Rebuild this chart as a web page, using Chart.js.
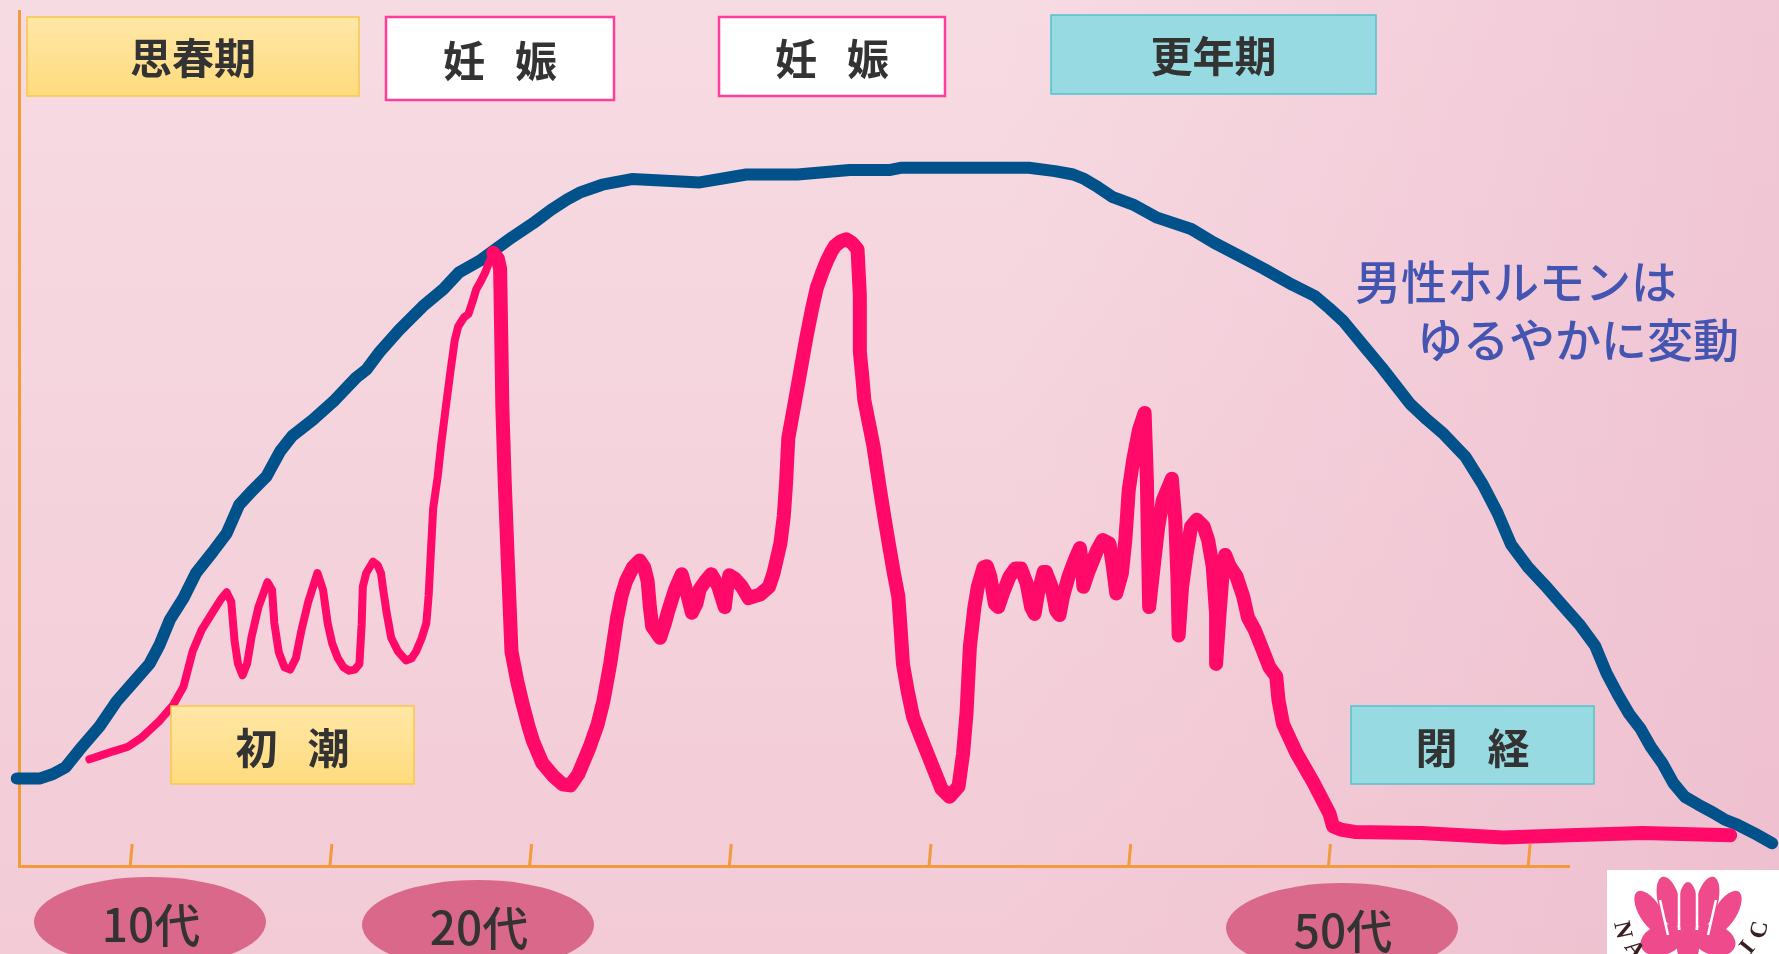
<!DOCTYPE html>
<html lang="ja">
<head>
<meta charset="utf-8">
<title>女性ホルモンと男性ホルモンの変化</title>
<script src="https://cdn.jsdelivr.net/npm/chart.js@4.4.0/dist/chart.umd.min.js"></script>
<style>
  html, body { margin: 0; padding: 0; overflow: hidden; }
  #wrap { width: 1779px; height: 954px; position: relative; }
</style>
</head>
<body>
<div id="wrap"><canvas id="chart"></canvas></div>
<script>
// x: position along the life axis (tick = one step), y: hormone level
const tickX = [1.15, 2.91, 4.67, 6.43, 8.19, 9.95, 11.71, 13.47];
const X_MIN = 0.17, X_MAX = 13.83;
const Y_MIN = 0, Y_MAX = 75.3;
const FIRST_PEAK_X = 4.35; // pink line gets thicker after the first pregnancy peak

// 女性ホルモン (pink)
const pinkX = [0.79, 0.88, 1.00, 1.13, 1.25, 1.40, 1.53, 1.62, 1.70, 1.78, 1.88, 1.95, 2.00, 2.04, 2.07, 2.10, 2.14, 2.18, 2.22, 2.28,
  2.36, 2.40, 2.42, 2.46, 2.51, 2.56, 2.61, 2.66, 2.72, 2.80, 2.85, 2.89, 2.93, 2.98, 3.03, 3.08, 3.13, 3.17, 3.19, 3.20,
  3.23, 3.29, 3.33, 3.36, 3.38, 3.41, 3.45, 3.51, 3.58, 3.63, 3.67, 3.72, 3.76, 3.78, 3.80, 3.82, 3.86, 3.89, 3.93, 3.97,
  4.01, 4.04, 4.09, 4.13, 4.17, 4.20, 4.24, 4.28, 4.31, 4.35, 4.39, 4.41, 4.42, 4.43, 4.45, 4.48, 4.51, 4.56, 4.61, 4.66,
  4.70, 4.78, 4.88, 4.96, 5.03, 5.10, 5.20, 5.27, 5.32, 5.38, 5.44, 5.48, 5.52, 5.58, 5.64, 5.68, 5.71, 5.73, 5.75, 5.82,
  5.86, 5.89, 5.95, 6.01, 6.05, 6.10, 6.14, 6.17, 6.22, 6.27, 6.33, 6.39, 6.41, 6.43, 6.48, 6.54, 6.60, 6.70, 6.78, 6.82,
  6.88, 6.91, 6.93, 6.95, 7.01, 7.06, 7.11, 7.16, 7.20, 7.25, 7.29, 7.33, 7.36, 7.41, 7.46, 7.51, 7.56, 7.58, 7.58, 7.60,
  7.62, 7.66, 7.70, 7.73, 7.76, 7.80, 7.84, 7.88, 7.92, 7.94, 7.96, 8.00, 8.05, 8.12, 8.18, 8.22, 8.26, 8.30, 8.37, 8.45,
  8.49, 8.52, 8.55, 8.59, 8.62, 8.67, 8.70, 8.73, 8.77, 8.80, 8.84, 8.90, 8.95, 9.00, 9.05, 9.09, 9.12, 9.15, 9.20, 9.22,
  9.27, 9.31, 9.34, 9.37, 9.42, 9.48, 9.52, 9.54, 9.55, 9.59, 9.67, 9.72, 9.78, 9.81, 9.84, 9.89, 9.92, 9.95, 9.99, 10.04,
  10.09, 10.11, 10.12, 10.13, 10.17, 10.21, 10.25, 10.33, 10.36, 10.38, 10.39, 10.42, 10.46, 10.50, 10.55, 10.61, 10.65, 10.69, 10.72, 10.72,
  10.75, 10.78, 10.80, 10.84, 10.90, 10.96, 11.00, 11.06, 11.12, 11.19, 11.25, 11.27, 11.31, 11.43, 11.58, 11.72, 11.75, 11.82, 11.94, 12.53,
  13.25, 13.83, 14.48, 15.25];
const pinkY = [9.4, 9.7, 10.1, 10.5, 11.3, 12.7, 14.2, 15.8, 18.9, 20.8, 22.4, 23.5, 24.1, 23.3, 19.8, 17.8, 16.8, 17.8, 20.2, 22.8,
  25.0, 24.3, 21.4, 18.8, 17.5, 17.3, 18.3, 20.8, 23.3, 25.8, 24.3, 21.4, 19.6, 18.3, 17.5, 17.2, 17.3, 17.8, 21.3, 24.6,
  25.8, 26.8, 26.5, 25.8, 24.3, 22.3, 20.1, 18.9, 18.1, 18.3, 18.9, 20.1, 21.4, 23.8, 27.7, 31.5, 34.3, 37.1, 40.3, 43.4,
  46.3, 47.5, 48.3, 48.6, 49.8, 50.8, 51.5, 52.3, 53.1, 54.0, 53.5, 52.6, 46.6, 40.3, 34.0, 26.3, 18.9, 16.3, 14.2, 12.3,
  11.0, 9.1, 7.9, 7.2, 7.1, 8.1, 10.5, 12.5, 14.5, 17.8, 21.8, 23.8, 25.1, 26.3, 26.9, 26.3, 25.1, 22.8, 21.1, 20.1,
  21.3, 22.4, 24.3, 25.7, 24.3, 22.3, 23.1, 24.4, 25.1, 25.7, 24.7, 22.8, 24.5, 25.6, 25.3, 24.6, 23.6, 23.9, 24.6, 25.8,
  28.4, 30.8, 33.7, 37.7, 41.0, 43.8, 46.6, 49.1, 50.9, 52.3, 53.3, 54.1, 54.6, 55.0, 55.2, 54.9, 54.3, 50.3, 45.3, 43.3,
  41.0, 39.0, 37.0, 35.0, 33.0, 30.5, 28.1, 25.8, 23.7, 20.8, 17.8, 15.5, 13.1, 11.3, 9.8, 8.8, 7.8, 6.8, 6.1, 7.0,
  9.9, 13.4, 19.3, 22.8, 24.6, 26.3, 26.4, 25.5, 23.1, 22.8, 24.0, 25.5, 26.2, 26.2, 24.9, 22.8, 22.2, 24.0, 25.9, 25.9,
  24.6, 22.5, 22.1, 23.7, 25.5, 27.1, 28.0, 26.4, 24.6, 25.8, 27.8, 28.7, 28.4, 26.4, 24.0, 25.8, 28.7, 33.1, 35.8, 38.4,
  39.9, 34.0, 28.1, 22.8, 26.4, 29.9, 32.2, 34.1, 30.5, 25.2, 20.3, 24.6, 27.5, 29.9, 30.5, 29.9, 28.7, 26.4, 22.2, 17.8,
  22.2, 26.1, 27.4, 26.4, 25.5, 23.7, 21.9, 20.8, 19.3, 17.5, 16.7, 14.6, 12.5, 9.9, 7.3, 4.6, 3.5, 3.2, 3.0, 2.9,
  2.5, 2.7, 2.9, 2.7];

// 男性ホルモン (blue)
const blueX = [0.15, 0.35, 0.47, 0.58, 0.70, 0.88, 1.03, 1.17, 1.32, 1.41, 1.50, 1.62, 1.73, 1.88, 2.00, 2.11, 2.23, 2.35, 2.47, 2.58,
  2.76, 2.94, 3.14, 3.23, 3.35, 3.52, 3.73, 3.91, 4.05, 4.23, 4.38, 4.52, 4.70, 4.86, 5.00, 5.11, 5.31, 5.57, 6.17, 6.58,
  7.03, 7.49, 7.85, 7.95, 8.60, 9.07, 9.30, 9.46, 9.56, 9.66, 9.81, 10.00, 10.20, 10.50, 10.70, 10.95, 11.14, 11.39, 11.59, 11.72,
  11.84, 12.03, 12.18, 12.43, 12.58, 12.72, 12.92, 13.07, 13.20, 13.32, 13.47, 13.62, 13.76, 13.92, 14.06, 14.16, 14.26, 14.36, 14.46, 14.55,
  14.65, 14.75, 14.85, 14.97, 15.10, 15.20, 15.30, 15.46, 15.62];
const blueY = [7.7, 7.7, 8.1, 8.7, 10.2, 12.3, 14.5, 16.1, 17.8, 19.5, 21.7, 23.6, 25.8, 27.7, 29.3, 31.8, 33.1, 34.3, 36.5, 37.9,
  39.3, 40.9, 43.0, 43.7, 45.3, 47.2, 49.3, 50.8, 52.3, 53.3, 54.4, 55.4, 56.6, 57.8, 58.7, 59.3, 60.0, 60.5, 60.2, 60.9,
  60.9, 61.3, 61.3, 61.5, 61.5, 61.5, 61.2, 60.9, 60.5, 59.9, 58.9, 58.2, 57.1, 56.1, 54.9, 53.6, 52.6, 51.2, 50.2, 49.1,
  48.0, 45.7, 43.9, 40.7, 39.3, 38.1, 36.0, 33.6, 31.1, 28.3, 26.3, 24.7, 23.1, 21.3, 19.4, 17.0, 15.1, 13.4, 12.1, 10.5,
  9.1, 7.3, 6.1, 5.4, 4.7, 4.1, 3.7, 2.9, 2.0];

const PINK = '#ff0a68';
const BLUE = '#01518b';
const AXIS = '#f39a3c';
const JP = '"Noto Sans CJK JP", "Noto Sans", sans-serif';

const labelBoxes = [
  { text: ['思春期'], x: 27, y: 17, w: 332, h: 79, style: 'yellow', ty: 58 },
  { text: ['妊', '娠'], x: 386, y: 17, w: 228, h: 83, style: 'white', ty: 61 },
  { text: ['妊', '娠'], x: 719, y: 17, w: 226, h: 79, style: 'white', ty: 59 },
  { text: ['更年期'], x: 1051, y: 15, w: 325, h: 79, style: 'cyan', ty: 56 },
  { text: ['初', '潮'], x: 171, y: 706, w: 243, h: 78, style: 'yellow', ty: 748 },
  { text: ['閉', '経'], x: 1351, y: 706, w: 243, h: 78, style: 'cyan', ty: 748 }
];
const ageLabels = [
  { text: '10代', cx: 150, cy: 922 },
  { text: '20代', cx: 478, cy: 925 },
  { text: '50代', cx: 1342, cy: 928 }
];

function toPoints(xs, ys) {
  return xs.map((x, i) => ({ x: x, y: ys[i] }));
}

const pinkPoints = toPoints(pinkX, pinkY);
const splitAt = pinkX.findIndex(x => x >= FIRST_PEAK_X);

function lineSet(label, data, color, width) {
  return {
    label: label,
    data: data,
    showLine: true,
    borderColor: color,
    borderWidth: width,
    borderCapStyle: 'round',
    borderJoinStyle: 'round',
    pointRadius: 0,
    pointHitRadius: 0,
    tension: 0,
    clip: false
  };
}

function drawBox(ctx, b) {
  ctx.save();
  if (b.style === 'yellow') {
    const g = ctx.createLinearGradient(0, b.y, 0, b.y + b.h);
    g.addColorStop(0, '#ffe7a6');
    g.addColorStop(1, '#ffdb7e');
    ctx.fillStyle = g;
    ctx.strokeStyle = '#f8c84a';
    ctx.lineWidth = 1.5;
  } else if (b.style === 'cyan') {
    ctx.fillStyle = '#97dae1';
    ctx.strokeStyle = '#52c2cc';
    ctx.lineWidth = 1.5;
  } else {
    ctx.fillStyle = '#ffffff';
    ctx.strokeStyle = '#ff3d9a';
    ctx.lineWidth = 2.5;
  }
  ctx.fillRect(b.x, b.y, b.w, b.h);
  ctx.strokeRect(b.x, b.y, b.w, b.h);
  ctx.fillStyle = '#333333';
  ctx.font = 'bold 42px ' + JP;
  ctx.textAlign = 'center';
  ctx.textBaseline = 'middle';
  const cx = b.x + b.w / 2;
  if (b.text.length === 1) {
    ctx.fillText(b.text[0], cx, b.ty);
  } else {
    ctx.fillText(b.text[0], cx - 36, b.ty);
    ctx.fillText(b.text[1], cx + 36, b.ty);
  }
  ctx.restore();
}

function drawLogo(ctx) {
  ctx.save();
  ctx.fillStyle = '#ffffff';
  ctx.fillRect(1607, 870, 172, 84);
  ctx.fillStyle = '#ef4a8c';
  const petals = [
    [1688, 910, 10, 28, 0], [1669, 902, 11, 26, -0.25], [1707, 902, 11, 26, 0.25],
    [1650, 912, 11, 24, -0.55], [1726, 912, 11, 24, 0.55],
    [1662, 940, 22, 15, -0.3], [1714, 940, 22, 15, 0.3], [1688, 948, 11, 15, 0]
  ];
  petals.forEach(p => {
    ctx.beginPath();
    ctx.ellipse(p[0], p[1], p[2], p[3], p[4], 0, Math.PI * 2);
    ctx.fill();
  });
  ctx.strokeStyle = '#ffffff';
  ctx.lineWidth = 2.5;
  [[1679, 890, 1679, 930], [1697, 890, 1697, 930], [1660, 900, 1668, 935], [1716, 900, 1708, 935]].forEach(l => {
    ctx.beginPath();
    ctx.moveTo(l[0], l[1]);
    ctx.lineTo(l[2], l[3]);
    ctx.stroke();
  });
  ctx.fillStyle = '#3a1f22';
  ctx.font = 'bold 24px "Liberation Serif", serif';
  ctx.textAlign = 'center';
  ctx.textBaseline = 'middle';
  [['N', 1622, 930, 1.35], ['A', 1634, 950, 0.9], ['I', 1748, 948, -0.9], ['C', 1760, 930, -1.35]].forEach(t => {
    ctx.save();
    ctx.translate(t[1], t[2]);
    ctx.rotate(t[3]);
    ctx.fillText(t[0], 0, 0);
    ctx.restore();
  });
  ctx.restore();
}

const decor = {
  id: 'decor',
  beforeDraw(chart) {
    const { ctx, width, height } = chart;
    ctx.save();
    const g = ctx.createLinearGradient(0, 0, 0, height);
    g.addColorStop(0, '#f7dbe3');
    g.addColorStop(1, '#f2cbd6');
    ctx.fillStyle = g;
    ctx.fillRect(0, 0, width, height);
    const h = ctx.createLinearGradient(1000, 0, width, 0);
    h.addColorStop(0, 'rgba(235,180,200,0)');
    h.addColorStop(1, 'rgba(235,180,200,0.5)');
    ctx.fillStyle = h;
    ctx.fillRect(0, 0, width, height);
    ctx.restore();
  },
  afterDraw(chart) {
    const { ctx } = chart;
    const xs = chart.scales.x;
    const bottom = chart.chartArea.bottom;
    ctx.save();
    // small upward tick marks on the age axis
    ctx.strokeStyle = AXIS;
    ctx.lineWidth = 3;
    xs.ticks.forEach(t => {
      const px = xs.getPixelForValue(t.value);
      ctx.beginPath();
      ctx.moveTo(px, bottom);
      ctx.lineTo(px + 2, bottom - 22);
      ctx.stroke();
    });
    ctx.restore();

    labelBoxes.forEach(b => drawBox(ctx, b));

    ctx.save();
    ctx.fillStyle = '#4355b0';
    ctx.font = '500 46px ' + JP;
    ctx.textBaseline = 'middle';
    ctx.textAlign = 'left';
    ctx.fillText('男性ホルモンは', 1355, 282);
    ctx.fillText('ゆるやかに変動', 1417, 340);
    ctx.restore();

    ctx.save();
    ageLabels.forEach(a => {
      ctx.fillStyle = '#d9688a';
      ctx.beginPath();
      ctx.ellipse(a.cx, a.cy, 116, 45, 0, 0, Math.PI * 2);
      ctx.fill();
      ctx.fillStyle = '#333333';
      ctx.font = '500 46px ' + JP;
      ctx.textAlign = 'center';
      ctx.textBaseline = 'middle';
      ctx.fillText(a.text, a.cx + 1, a.cy + 3);
    });
    ctx.restore();

    drawLogo(ctx);
  }
};

const ctx = document.getElementById('chart');

new Chart(ctx, {
  type: 'scatter',
  data: {
    datasets: [
      lineSet('女性ホルモン', pinkPoints.slice(splitAt), PINK, 14),
      lineSet('女性ホルモン(初潮〜)', pinkPoints.slice(0, splitAt + 1), PINK, 8),
      lineSet('男性ホルモン', toPoints(blueX, blueY), BLUE, 12)
    ]
  },
  options: {
    animation: false,
    responsive: true,
    maintainAspectRatio: false,
    layout: { padding: { left: 19, right: 210, top: 11, bottom: 88 } },
    plugins: {
      legend: { display: false },
      tooltip: { enabled: false }
    },
    scales: {
      x: {
        type: 'linear',
        bounds: 'data',
        afterDataLimits: (s) => { s.min = X_MIN; s.max = X_MAX; },
        afterBuildTicks: (s) => { s.ticks = tickX.map(v => ({ value: v })); },
        grid: { display: false, drawTicks: false },
        border: { display: true, color: AXIS, width: 3 },
        ticks: { display: false }
      },
      y: {
        type: 'linear',
        bounds: 'data',
        afterDataLimits: (s) => { s.min = Y_MIN; s.max = Y_MAX; },
        grid: { display: false, drawTicks: false },
        border: { display: true, color: AXIS, width: 3 },
        ticks: { display: false }
      }
    }
  },
  plugins: [decor]
});
</script>
</body>
</html>
